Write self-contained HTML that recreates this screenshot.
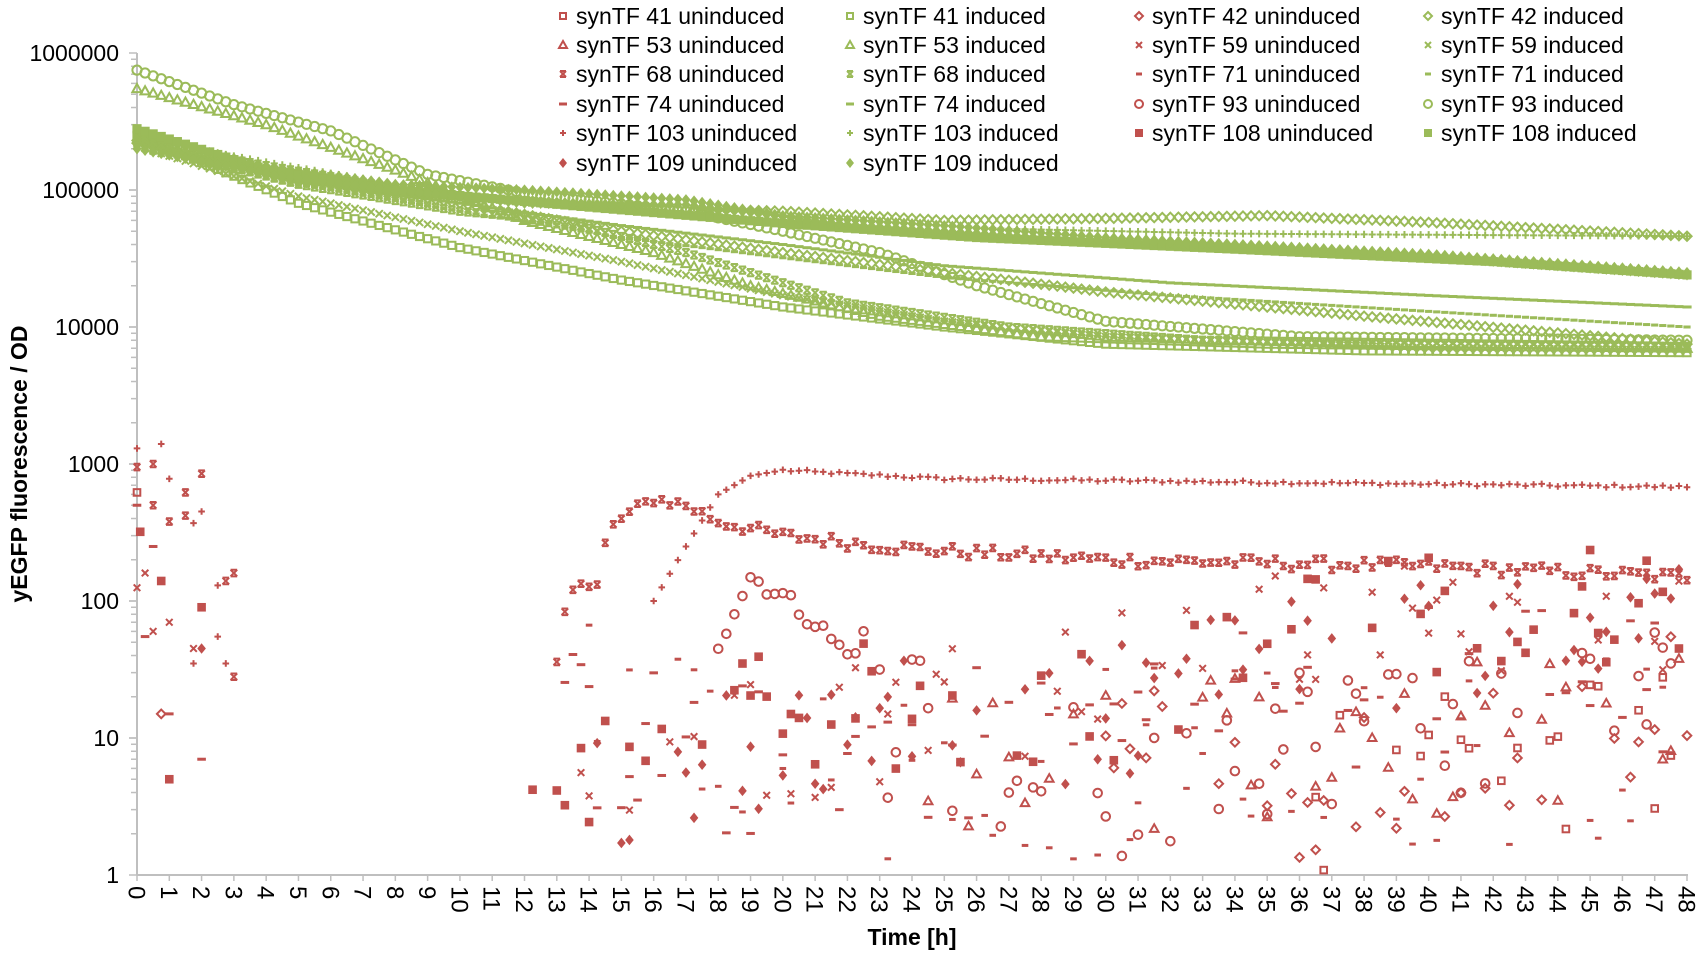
<!DOCTYPE html>
<html><head><meta charset="utf-8"><style>
html,body{margin:0;padding:0;background:#fff;}
svg{display:block;font-family:"Liberation Sans",sans-serif;}
</style></head><body>
<svg id="s" width="1702" height="955" viewBox="0 0 1702 955" xmlns="http://www.w3.org/2000/svg"></svg>
<script>
const S=document.getElementById('s');
const G='#9BBB59',R='#C0504D';
let out='';
const X=t=>137+t*(1687-137)/48;
const Y=v=>875-Math.log10(v)*137;
let seed=12345;const rnd=()=>{seed=(seed*1103515245+12345)%2147483648;return seed/2147483648;};
function mk(type,x,y,c,s){s=s||4;
 const sw=2;
 switch(type){
 case 'sq':return `<rect x="${x-s+1}" y="${y-s+1}" width="${2*s-2}" height="${2*s-2}" fill="none" stroke="${c}" stroke-width="${sw}"/>`;
 case 'fsq':return `<rect x="${x-s}" y="${y-s}" width="${2*s}" height="${2*s}" fill="${c}"/>`;
 case 'tri':return `<polygon points="${x},${y-s} ${x+s},${y+s-1} ${x-s},${y+s-1}" fill="none" stroke="${c}" stroke-width="${sw}"/>`;
 case 'dia':return `<polygon points="${x},${y-s} ${x+s},${y} ${x},${y+s} ${x-s},${y}" fill="none" stroke="${c}" stroke-width="${sw}"/>`;
 case 'fdia':return `<polygon points="${x},${y-s-1} ${x+s},${y} ${x},${y+s+1} ${x-s},${y}" fill="${c}"/>`;
 case 'x':return `<path d="M${x-s+1} ${y-s+1}L${x+s-1} ${y+s-1}M${x+s-1} ${y-s+1}L${x-s+1} ${y+s-1}" stroke="${c}" stroke-width="${sw}"/>`;
 case 'star':return `<path d="M${x-s+1} ${y-s+1}L${x+s-1} ${y+s-1}M${x+s-1} ${y-s+1}L${x-s+1} ${y+s-1}M${x-s+1} ${y-s+1}H${x+s-1}M${x-s+1} ${y+s-1}H${x+s-1}" stroke="${c}" stroke-width="${sw}"/>`;
 case 'dash':return `<rect x="${x-s}" y="${y-1.5}" width="${2*s}" height="3" fill="${c}"/>`;
 case 'sdash':return `<rect x="${x-s+1}" y="${y-1.5}" width="${2*s-2}" height="3" fill="${c}"/>`;
 case 'cir':return `<circle cx="${x}" cy="${y}" r="${s}" fill="none" stroke="${c}" stroke-width="${sw}"/>`;
 case 'plus':return `<path d="M${x-s+1} ${y}H${x+s-1}M${x} ${y-s+1}V${y+s-1}" stroke="${c}" stroke-width="${sw}"/>`;
 }}
out+=`<line x1="137" y1="53" x2="137" y2="875" stroke="#bfbfbf" stroke-width="2"/>`;
out+=`<line x1="137" y1="875" x2="1688" y2="875" stroke="#bfbfbf" stroke-width="2"/>`;
for(let d=0;d<6;d++){for(let m=1;m<=10;m++){const y=Y(Math.pow(10,d)*m);out+=`<line x1="${m==1||m==10?129:131}" y1="${y}" x2="137" y2="${y}" stroke="#bfbfbf" stroke-width="1.5"/>`;}}
const lab=['1','10','100','1000','10000','100000','1000000'];
lab.forEach((l,i)=>{out+=`<text x="119" y="${Y(Math.pow(10,i))+8}" font-size="23" text-anchor="end" fill="#000">${l}</text>`;});
for(let t=0;t<=48;t++){const x=X(t);out+=`<line x1="${x}" y1="875" x2="${x}" y2="881" stroke="#bfbfbf" stroke-width="1.5"/>`;
 out+=`<text transform="translate(${x-8.5},886) rotate(90)" font-size="24" fill="#000">${t}</text>`;}
out+=`<text x="912" y="945" font-size="23" font-weight="bold" text-anchor="middle">Time [h]</text>`;
out+=`<text transform="translate(27,464) rotate(-90)" font-size="23" font-weight="bold" text-anchor="middle">yEGFP fluorescence / OD</text>`;
const gs=[
['sq',[[0,250e3],[5,80e3],[10,38e3],[15,22e3],[20,14e3],[25,10e3],[30,7500],[38,6700],[48,6500]]],
['cir',[[0,750e3],[3,420e3],[6,270e3],[9,130e3],[12,95e3],[17,70e3],[20,50e3],[23,35e3],[26,20e3],[30,11e3],[36,8500],[48,8000]]],
['tri',[[0,550e3],[4,300e3],[8,140e3],[12,60e3],[16,35e3],[19,20e3],[23,12e3],[28,8500],[35,7500],[48,7000]]],
['fdia',[[0,250e3],[4,150e3],[8,110e3],[12,100e3],[17,85e3],[20,65e3],[25,55e3],[30,45e3],[40,34e3],[48,25e3]]],
['plus',[[0,240e3],[4,160e3],[8,110e3],[12,85e3],[17,75e3],[22,60e3],[27,52e3],[34,48e3],[48,46e3]]],
['dia',[[0,230e3],[5,120e3],[10,80e3],[15,50e3],[20,35e3],[25,25e3],[30,18e3],[38,12e3],[48,7500]]],
['fsq',[[0,280e3],[4,140e3],[8,100e3],[14,75e3],[20,57e3],[26,45e3],[34,37e3],[42,30e3],[48,24e3]]],
['sdash',[[0,220e3],[5,110e3],[10,70e3],[15,45e3],[20,32e3],[25,23e3],[32,17e3],[40,13e3],[48,10e3]]],
['dash',[[0,230e3],[5,115e3],[10,80e3],[15,55e3],[20,40e3],[25,28e3],[32,21e3],[40,17e3],[48,14e3]]],
['x',[[0,210e3],[5,90e3],[10,50e3],[15,30e3],[20,17e3],[25,11e3],[30,8500],[40,7000],[48,6800]]],
['star',[[0,220e3],[5,110e3],[10,70e3],[13,60e3],[17,35e3],[22,15e3],[27,10e3],[33,8000],[48,7200]]],
['dia',[[0,220e3],[5,115e3],[10,90e3],[15,75e3],[20,70e3],[25,60e3],[30,62e3],[35,65e3],[40,58e3],[48,46e3]]],
['fdia',[[0,200e3],[4,130e3],[8,100e3],[12,80e3],[17,78e3],[22,56e3],[28,45e3],[36,38e3],[48,24e3]]],
];
function interp(k,t){for(let i=0;i<k.length-1;i++){if(t<=k[i+1][0]){const f=(t-k[i][0])/(k[i+1][0]-k[i][0]);return Math.pow(10,Math.log10(k[i][1])*(1-f)+Math.log10(k[i+1][1])*f);}}return k[k.length-1][1];}
gs.forEach(([ty,k])=>{for(let t=0;t<=48.01;t+=0.25){out+=mk(ty,X(t),Y(interp(k,t)),G,4.6);}});
for(let t=16;t<=48.01;t+=0.25){const v=t<20?interp([[16,100],[17,250],[18,600],[19,820],[20,900]],t):interp([[20,900],[25,780],[48,680]],t)*(1+0.05*(rnd()-0.5));out+=mk('plus',X(t),Y(v),R,4.3);}
for(let t=13;t<=48.01;t+=0.25){let v=interp([[13,60],[14,140],[15,400],[16,560],[17,500],[18,380],[20,300],[24,240],[30,200],[40,180],[48,150]],t)*(1+0.2*(rnd()-0.5));if(t<15)v*=0.6+rnd()*0.8;out+=mk('star',X(t),Y(v),R,4.3);}
for(let t=18;t<=22.5;t+=0.25){const v=interp([[18,50],[19,150],[20,110],[21,70],[22,40],[22.5,55]],t)*(1+0.3*(rnd()-0.5));out+=mk('cir',X(t),Y(v),R,4.3);}
const scat=[['fsq',[[12,3],[20,15],[30,20],[36,60],[48,100]],0.5],['fdia',[[13,4],[20,10],[30,15],[36,40],[48,70]],0.5],['x',[[12,10],[18,8],[25,18],[35,50],[48,100]],0.5],['dash',[[13,12],[20,6],[30,15],[40,25],[48,25]],0.6],['sdash',[[14,15],[22,4],[32,8],[48,8]],0.7],['cir',[[23,12],[30,4],[36,12],[48,20]],0.6],['dia',[[30,12],[38,4],[48,20]],0.6],['sq',[[36,4],[48,8]],0.6],['tri',[[24,8],[36,8],[48,15]],0.6]];
scat.forEach(([ty,k,sp])=>{const t0=k[0][0];for(let t=t0;t<=48.01;t+=0.25){if(rnd()<0.55)continue;const v=interp(k,t)*Math.pow(10,(rnd()-0.5)*2*sp);if(v<1)continue;out+=mk(ty,X(t),Y(v),R,4.3);}});
const early=[['plus',1300,0],['star',950,0],['sq',620,0],['dash',500,0],['fsq',320,0.1],['x',125,0],['star',1000,0.5],['plus',1400,0.75],['star',500,0.5],['plus',780,1],['star',420,1.5],['star',620,1.5],['star',380,1],['plus',370,1.75],['star',850,2],['plus',450,2],['star',160,3],['plus',130,2.5],['star',140,2.75],['x',60,0.5],['x',45,1.75],['x',70,1],['dash',55,0.25],['dash',250,0.5],['fsq',140,0.75],['fsq',90,2],['fdia',45,2],['dia',15,0.75],['dash',15,1],['fsq',5,1],['dash',7,2],['plus',55,2.5],['plus',35,2.75],['star',28,3],['x',160,0.25],['plus',35,1.75]];
early.forEach(([ty,v,t])=>{out+=mk(ty,X(t),Y(v),R,4.3);});
const leg=[['sq','synTF 41 uninduced',R],['sq','synTF 41 induced',G],['dia','synTF 42 uninduced',R],['dia','synTF 42 induced',G],
['tri','synTF 53 uninduced',R],['tri','synTF 53 induced',G],['x','synTF 59 uninduced',R],['x','synTF 59 induced',G],
['star','synTF 68 uninduced',R],['star','synTF 68 induced',G],['sdash','synTF 71 uninduced',R],['sdash','synTF 71 induced',G],
['dash','synTF 74 uninduced',R],['dash','synTF 74 induced',G],['cir','synTF 93 uninduced',R],['cir','synTF 93 induced',G],
['plus','synTF 103 uninduced',R],['plus','synTF 103 induced',G],['fsq','synTF 108 uninduced',R],['fsq','synTF 108 induced',G],
['fdia','synTF 109 uninduced',R],['fdia','synTF 109 induced',G]];
const cx=[563,850,1139,1428],ry=[16,45,74,104,133,163];
leg.forEach(([ty,l,c],i)=>{const col=i%4,row=Math.floor(i/4);const x=cx[col],y=ry[row];out+=mk(ty,x,y,c,4);out+=`<text x="${x+13}" y="${y+8}" font-size="23" fill="#000">${l}</text>`;});
S.innerHTML=out;
</script>
</body></html>
